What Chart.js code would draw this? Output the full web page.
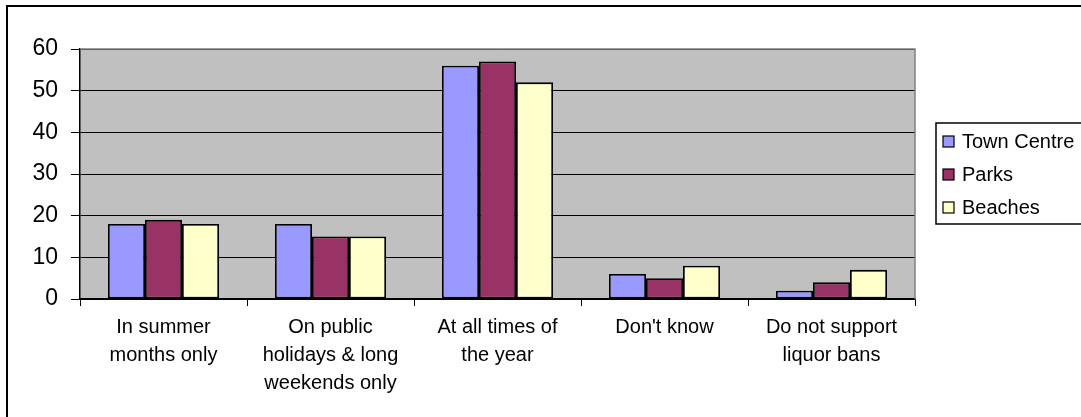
<!DOCTYPE html>
<html>
<head>
<meta charset="utf-8">
<script src="https://cdn.jsdelivr.net/npm/chart.js@4.4.1/dist/chart.umd.min.js"></script>
<style>
    html, body { margin: 0; padding: 0; background: #fff; }
    #ban-chart { display: block; }
</style>
</head>
<body>
<canvas id="ban-chart" width="1081" height="417"></canvas>
<script>
const categories = [
    ['In summer', 'months only'],
    ['On public', 'holidays & long', 'weekends only'],
    ['At all times of', 'the year'],
    ["Don't know"],
    ['Do not support', 'liquor bans'],
];
const seriesNames = ['Town Centre', 'Parks', 'Beaches'];
const townCentre = [18, 18, 56, 6, 2];
const parks = [19, 15, 57, 5, 4];
const beaches = [18, 15, 52, 8, 7];
const seriesColors = ['#9999FF', '#993366', '#FFFFCC'];
const yTicks = [0, 10, 20, 30, 40, 50, 60];

const fontFamily = '"Liberation Sans", Arial, sans-serif';

// grey plot area with its grey top/right edge, like the old Excel look
const plotArea = {
    id: 'plotArea',
    beforeDraw(chart) {
        const {ctx, chartArea: a} = chart;
        ctx.save();
        ctx.fillStyle = '#C0C0C0';
        ctx.fillRect(a.left, a.top, a.right - a.left, a.bottom - a.top);
        ctx.restore();
    },
    beforeDatasetsDraw(chart) {
        const {ctx, chartArea: a} = chart;
        ctx.save();
        ctx.strokeStyle = '#808080';
        ctx.lineWidth = 1.5;
        ctx.beginPath();
        ctx.moveTo(a.left, a.top);
        ctx.lineTo(a.right, a.top);
        ctx.lineTo(a.right, a.bottom);
        ctx.stroke();
        ctx.restore();
    }
};

// boxed legend to the right + outer frame
const boxLegend = {
    id: 'boxLegend',
    afterDraw(chart) {
        const {ctx} = chart;
        ctx.save();
        ctx.strokeStyle = '#000';
        ctx.lineWidth = 2;
        ctx.strokeRect(7, 6, 1100, 430);

        ctx.lineWidth = 1.5;
        ctx.strokeRect(936, 123, 160, 101);

        ctx.font = '20px ' + fontFamily;
        ctx.textBaseline = 'middle';
        ctx.textAlign = 'left';
        chart.data.datasets.forEach((ds, i) => {
            const y = 141 + i * 33;
            ctx.fillStyle = ds.backgroundColor;
            ctx.fillRect(943, y - 5, 11, 11);
            ctx.lineWidth = 1.2;
            ctx.strokeStyle = '#000';
            ctx.strokeRect(943, y - 5, 11, 11);
            ctx.fillStyle = '#000';
            ctx.fillText(ds.label, 962, y + 1);
        });
        ctx.restore();
    }
};

const initBanChart = function () {
    const el = document.getElementById('ban-chart');
    const values = [townCentre, parks, beaches];

    return new Chart(el, {
        type: 'bar',
        data: {
            labels: categories,
            datasets: seriesNames.map((name, i) => ({
                label: name,
                data: values[i],
                backgroundColor: seriesColors[i],
                borderColor: '#000',
                borderWidth: 1.8,
                borderSkipped: false,
                categoryPercentage: 0.665,
                barPercentage: 1.0,
            }))
        },
        options: {
            responsive: false,
            animation: false,
            devicePixelRatio: 1,
            layout: { padding: { left: 0, top: 49, right: 166, bottom: 0 } },
            plugins: {
                legend: { display: false },
                tooltip: { enabled: false },
            },
            scales: {
                x: {
                    afterFit(scale) { scale.height = 118; },
                    grid: {
                        offset: true,
                        drawOnChartArea: false,
                        tickLength: 7,
                        color: '#000',
                    },
                    border: { color: '#000', width: 1.5 },
                    ticks: {
                        color: '#000',
                        padding: 8,
                        maxRotation: 0,
                        autoSkip: false,
                        font: { family: fontFamily, size: 20, lineHeight: 1.38 },
                    },
                },
                y: {
                    min: 0,
                    max: 60,
                    afterFit(scale) { scale.width = 80; },
                    afterBuildTicks(scale) { scale.ticks = yTicks.map(v => ({value: v})); },
                    grid: { color: '#000', tickLength: 9, lineWidth: 1 },
                    border: { color: '#000', width: 1.5 },
                    ticks: {
                        color: '#000',
                        padding: 13,
                        font: { family: fontFamily, size: 23 },
                    },
                },
            },
        },
        plugins: [plotArea, boxLegend],
    });
}

initBanChart();
</script>
</body>
</html>
